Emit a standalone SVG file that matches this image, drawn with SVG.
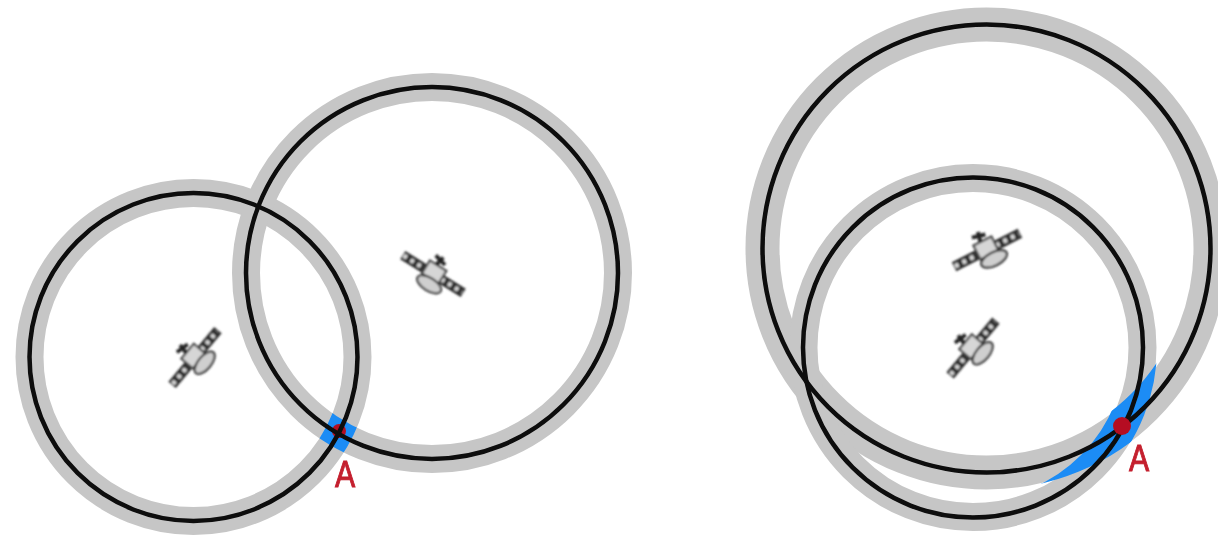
<svg xmlns="http://www.w3.org/2000/svg" width="1218" height="536" viewBox="0 0 1218 536">
<style>
.band{fill:none;stroke:#c6c6c6}
.orbit{fill:none;stroke:#0a0a0a;stroke-width:4.500}
.blue{fill:none;stroke:#1a8cf5}
.lbl{font-family:"Liberation Sans",Arial,sans-serif;font-size:37px;fill:#c4202e;stroke:#c4202e;stroke-width:.9;text-anchor:middle}
.sat{filter:url(#soft)}
</style>
<defs>
<filter id="soft" x="-20%" y="-20%" width="140%" height="140%"><feGaussianBlur stdDeviation="1"/></filter>
<filter id="soft2" filterUnits="userSpaceOnUse" x="0" y="0" width="1218" height="536"><feGaussianBlur stdDeviation="0.7"/></filter>
<clipPath id="ringB"><path clip-rule="evenodd" d="M232 273a200 200 0 1 0 400 0a200 200 0 1 0 -400 0zM260 273a172 172 0 1 0 344 0a172 172 0 1 0 -344 0z"/></clipPath>
<clipPath id="ringD"><path clip-rule="evenodd" d="M745 248.500a241.500 241.500 0 1 0 483 0a241.500 241.500 0 1 0 -483 0zM781.500 248.500a205 205 0 1 0 410 0a205 205 0 1 0 -410 0z"/></clipPath>
<clipPath id="nearA"><rect x="290" y="380" width="100" height="100"/></clipPath>
<clipPath id="nearA2"><rect x="1020" y="340" width="160" height="160"/></clipPath>
<g id="craft">
<path d="M-33 0H-8M8 0H33" stroke="#2e2e2e" stroke-width="9" fill="none"/>
<path d="M-32 0H-9M9 0H32" stroke="#d8d8d8" stroke-width="4" stroke-dasharray="3.500 4" fill="none"/>
<rect x="-9" y="-9" width="18" height="14" fill="#d6d6d6" stroke="#444" stroke-width="2"/>
<ellipse cx="2" cy="10" rx="12.500" ry="6" fill="#cfcfcf" stroke="#333" stroke-width="2"/>
<path d="M-2 -9L0 -18M-7 -16L5 -13" stroke="#222" stroke-width="3.500" fill="none"/>
</g>
</defs>
<g filter="url(#soft2)">
<g id="left-pair">
<circle class="band" cx="193.500" cy="357" r="164" stroke-width="28"/>
<circle class="band" cx="432" cy="273" r="186" stroke-width="28"/>
<g clip-path="url(#nearA)"><g clip-path="url(#ringB)"><circle class="blue" cx="193.500" cy="357" r="164" stroke-width="28"/></g></g>
<circle cx="339" cy="431" r="7" fill="#b51020"/>
</g>
<g id="right-pair">
<circle class="band" cx="986.500" cy="248.500" r="224" stroke-width="34"/>
<circle class="band" cx="973" cy="347.500" r="169.500" stroke-width="28"/>
<g clip-path="url(#nearA2)"><g clip-path="url(#ringD)"><circle class="blue" cx="973" cy="347.500" r="168.250" stroke-width="31.500"/></g></g>
</g>
<g id="connectors">
<circle class="orbit" cx="193.500" cy="357" r="164"/>
<circle class="orbit" cx="432" cy="273" r="186"/>
<circle class="orbit" cx="986.500" cy="248.500" r="224"/>
<circle class="orbit" cx="973" cy="347.500" r="170"/>
</g>
<g id="point-a2"><circle cx="1122" cy="426" r="9" fill="#b51020"/></g>
<g id="sat-1" class="sat"><use href="#craft" transform="translate(195 357.500) rotate(-50) scale(1.08)"/></g>
<g id="sat-2" class="sat"><use href="#craft" transform="translate(433 274) rotate(32) scale(1.08)"/></g>
<g id="sat-3" class="sat"><use href="#craft" transform="translate(987 250) rotate(-27) scale(1.12)"/></g>
<g id="sat-4" class="sat"><use href="#craft" transform="translate(973 348) rotate(-50) scale(1.08)"/></g>
<g id="label-a1"><text class="lbl" transform="translate(345 487) scale(.82 1)">A</text></g>
<g id="label-a2"><text class="lbl" transform="translate(1139 471) scale(.82 1)">A</text></g>
</g>
</svg>
